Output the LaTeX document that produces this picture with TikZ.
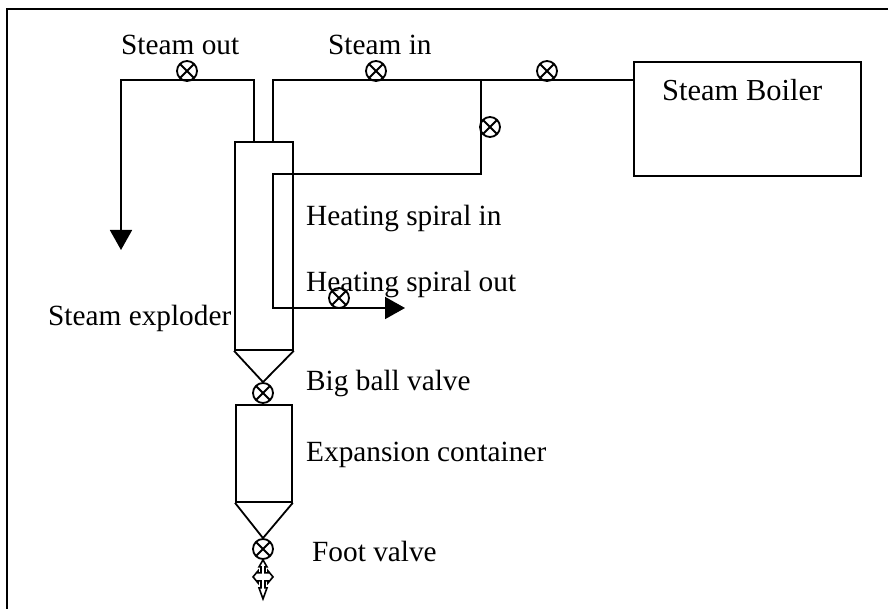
\documentclass[tikz,border=0pt]{standalone}
\usepackage{fontspec}
\setmainfont{Liberation Serif}
\usetikzlibrary{arrows.meta,positioning}
\begin{document}
\begin{tikzpicture}[x=1pt, y=-1pt, every node/.style={font=\fontsize{29.3}{32}\selectfont}]
\tikzset{box/.style={draw, line width=1.8pt, inner sep=0pt, anchor=north west}}
\tikzset{label/.style={inner sep=0pt, anchor=base west}}
\tikzset{pipe/.style={line width=1.8pt}}
\tikzset{arrow/.style={-{Triangle[length=20pt, width=22pt]}, line width=1.8pt}}
\tikzset{valve/.style={draw, circle, line width=1.8pt, minimum size=20pt, inner sep=0pt,
  path picture={\draw[line width=1.8pt] (path picture bounding box.north west) -- (path picture bounding box.south east)
  (path picture bounding box.north east) -- (path picture bounding box.south west);}}}
\useasboundingbox (0,0) rectangle (888,609);
\draw[line width=2.2pt] (7,609) -- (7,9) -- (888,9);
% vessels
\node[box, minimum width=58pt, minimum height=208pt] (exploder) at (234,141) {};
\node[box, minimum width=56pt, minimum height=97pt] (container) at (235,404) {};
\node[box, minimum width=227pt, minimum height=114pt] (boiler) at (633,61) {};
% valves
\node[valve] (v1) at (187,71) {};
\node[valve] (v2) at (376,71) {};
\node[valve] (v3) at (547,71) {};
\node[valve] (v4) at (490,127) {};
\node[valve] (v5) at (339,298) {};
\node[valve] (v6) at (263,393) {};
\node[valve] (v7) at (263,549) {};
% corners
\coordinate (c1) at (254,80);
\coordinate (c2) at (121,80);
\coordinate (c3) at (121,250);
\coordinate (c4) at (273,80);
\coordinate (c5) at (481,80);
\coordinate (c6) at (481,174);
\coordinate (c7) at (273,174);
\coordinate (c8) at (273,308);
\coordinate (c9) at (405,308);
% pipes
\draw[arrow] (exploder.north -| c1) -- (c1) -- (c2) -- (c3);
\draw[pipe] (exploder.north -| c4) -- (c4) -- (boiler.west |- c4);
\draw[arrow] (c5) -- (c6) -- (c7) -- (c8) -- (c9);
% cones
\draw[pipe] (exploder.south west) -- (v6.north) -- (exploder.south east);
\draw[pipe] (container.south west) -- (v7.north) -- (container.south east);
% discharge
\draw[line width=1.6pt, fill=white] (v7.south)
  -- ++(-4,7) -- ++(2,0) -- ++(0,6) -- ++(-3,0) -- ++(0,-2) -- ++(-5,6) -- ++(5,6) -- ++(0,-2) -- ++(3,0)
  -- ++(0,7) -- ++(-2,0) -- ++(4,11) -- ++(4,-11) -- ++(-2,0) -- ++(0,-7) -- ++(3,0) -- ++(0,2)
  -- ++(5,-6) -- ++(-5,-6) -- ++(0,2) -- ++(-3,0) -- ++(0,-6) -- ++(2,0) -- cycle;
% labels
\node[label] (steamout) at (121,55) {Steam out};
\node[label] (steamin) at (328,55) {Steam in};
\node[label, font=\fontsize{30.5}{32}\selectfont] (boilertext) at (662,101) {Steam Boiler};
\node[label] (spiralin) at (306,226) {Heating spiral in};
\node[label] (spiralout) at (306,292) {Heating spiral out};
\node[label] (exploderlabel) at (48,326) {Steam exploder};
\node[label] (ballvalve) at (306,390) {Big ball valve};
\node[label] (containerlabel) at (306,461) {Expansion container};
\node[label] (footvalve) at (312,561) {Foot valve};
\end{tikzpicture}
\end{document}
